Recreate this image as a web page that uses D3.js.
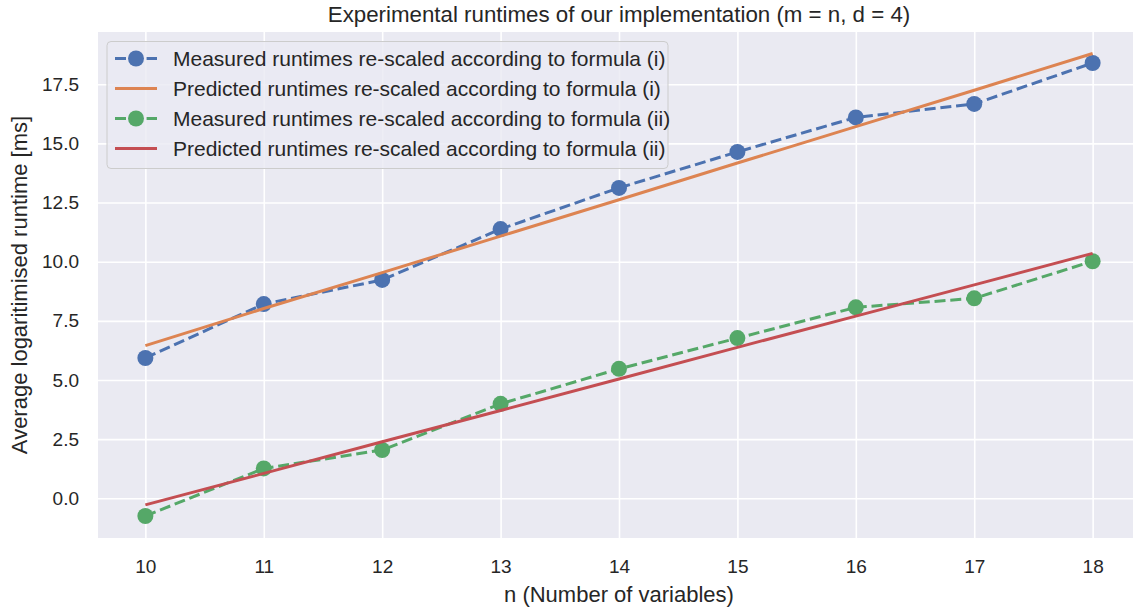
<!DOCTYPE html>
<html>
<head>
<meta charset="utf-8">
<script src="https://cdn.jsdelivr.net/npm/d3@7"></script>
<style>
  body { margin: 0; background: #fff; }
  svg { display: block; font-family: "Liberation Sans", Arial, sans-serif; }
</style>
</head>
<body>
<svg id="chart" width="1133" height="609"></svg>
<script>
// data
var nValues = [10, 11, 12, 13, 14, 15, 16, 17, 18];
var measuredI = [5.93, 8.21, 9.23, 11.38, 13.12, 14.64, 16.10, 16.67, 18.40];
var predictedI = [6.45, 8.02, 9.54, 11.08, 12.62, 14.17, 15.71, 17.25, 18.80];
var measuredII = [-0.75, 1.26, 2.04, 3.99, 5.47, 6.77, 8.07, 8.45, 10.02];
var predictedII = [-0.28, 1.05, 2.39, 3.71, 5.04, 6.38, 7.70, 9.02, 10.35];
var yTicks = [0.0, 2.5, 5.0, 7.5, 10.0, 12.5, 15.0, 17.5];

var series = [
  { label: "Measured runtimes re-scaled according to formula (i)", values: measuredI, color: "#4C72B0", dashed: true },
  { label: "Predicted runtimes re-scaled according to formula (i)", values: predictedI, color: "#DD8452", dashed: false },
  { label: "Measured runtimes re-scaled according to formula (ii)", values: measuredII, color: "#55A868", dashed: true },
  { label: "Predicted runtimes re-scaled according to formula (ii)", values: predictedII, color: "#C44E52", dashed: false }
];

var svg = d3.select("#chart");
var mLeft = 98, mTop = 32, mRight = 1140, mBottom = 538;
var textColor = "#262626";

var x = d3.scaleLinear().domain([9.6, 18.4]).range([mLeft, mRight]);
var y = d3.scaleLinear().domain([-1.68, 19.71]).range([mBottom, mTop]);

svg.append("rect")
    .attr("x", mLeft).attr("y", mTop)
    .attr("width", mRight - mLeft).attr("height", mBottom - mTop)
    .attr("fill", "#EAEAF2");

// grid
var xAxis = d3.axisBottom(x).tickValues(nValues).tickFormat(d3.format("d"))
    .tickSize(-(mBottom - mTop));
var yAxis = d3.axisLeft(y).tickValues(yTicks).tickFormat(d3.format(".1f"))
    .tickSize(-(mRight - mLeft)).tickPadding(19);

var gx = svg.append("g").attr("transform", "translate(0," + mBottom + ")").call(xAxis);
var gy = svg.append("g").attr("transform", "translate(" + mLeft + ",0)").call(yAxis);

[gx, gy].forEach(function (g) {
  g.select(".domain").remove();
  g.selectAll(".tick line").attr("stroke", "#fff").attr("stroke-width", 1.6);
  g.selectAll(".tick text")
      .attr("fill", textColor)
      .style("font-size", "19px")
      .style("font-family", "'Liberation Sans', Arial, sans-serif");
});
gx.selectAll(".tick text").attr("y", 35).attr("dy", 0);

var line = d3.line()
    .x(function (d, i) { return x(nValues[i]); })
    .y(function (d) { return y(d); });

var plot = svg.append("g");

series.forEach(function (s) {
  plot.append("path")
      .datum(s.values)
      .attr("d", line)
      .attr("fill", "none")
      .attr("stroke", s.color)
      .attr("stroke-width", 3)
      .attr("stroke-dasharray", s.dashed ? "11,4.8" : null);
  if (s.dashed) {
    plot.selectAll(null)
        .data(s.values)
        .enter().append("circle")
        .attr("cx", function (d, i) { return x(nValues[i]); })
        .attr("cy", function (d) { return y(d); })
        .attr("r", 8)
        .attr("fill", s.color);
  }
});

// title and axis labels
svg.append("text")
    .attr("x", (mLeft + mRight) / 2).attr("y", 22)
    .attr("text-anchor", "middle")
    .attr("fill", textColor)
    .style("font-size", "22.3px")
    .text("Experimental runtimes of our implementation (m = n, d = 4)");

svg.append("text")
    .attr("x", (mLeft + mRight) / 2).attr("y", 602)
    .attr("text-anchor", "middle")
    .attr("fill", textColor)
    .style("font-size", "22px")
    .text("n (Number of variables)");

svg.append("text")
    .attr("transform", "translate(27," + ((mTop + mBottom) / 2) + ") rotate(-90)")
    .attr("text-anchor", "middle")
    .attr("fill", textColor)
    .style("font-size", "22px")
    .text("Average logaritimised runtime [ms]");

// legend
var legend = svg.append("g");
legend.append("rect")
    .attr("x", 107).attr("y", 41.5)
    .attr("width", 561).attr("height", 127)
    .attr("rx", 4)
    .attr("fill", "#EAEAF2").attr("fill-opacity", 0.8)
    .attr("stroke", "#cccccc").attr("stroke-width", 1);

series.forEach(function (s, i) {
  var ly = 58.5 + i * 30;
  legend.append("line")
      .attr("x1", 115).attr("x2", 157)
      .attr("y1", ly).attr("y2", ly)
      .attr("stroke", s.color).attr("stroke-width", 3)
      .attr("stroke-dasharray", s.dashed ? "11,4.8" : null);
  if (s.dashed) {
    legend.append("circle").attr("cx", 136).attr("cy", ly).attr("r", 8).attr("fill", s.color);
  }
  legend.append("text")
      .attr("x", 173).attr("y", ly)
      .attr("dy", "0.35em")
      .attr("fill", textColor)
      .style("font-size", "21px")
      .text(s.label);
});
</script>
</body>
</html>
